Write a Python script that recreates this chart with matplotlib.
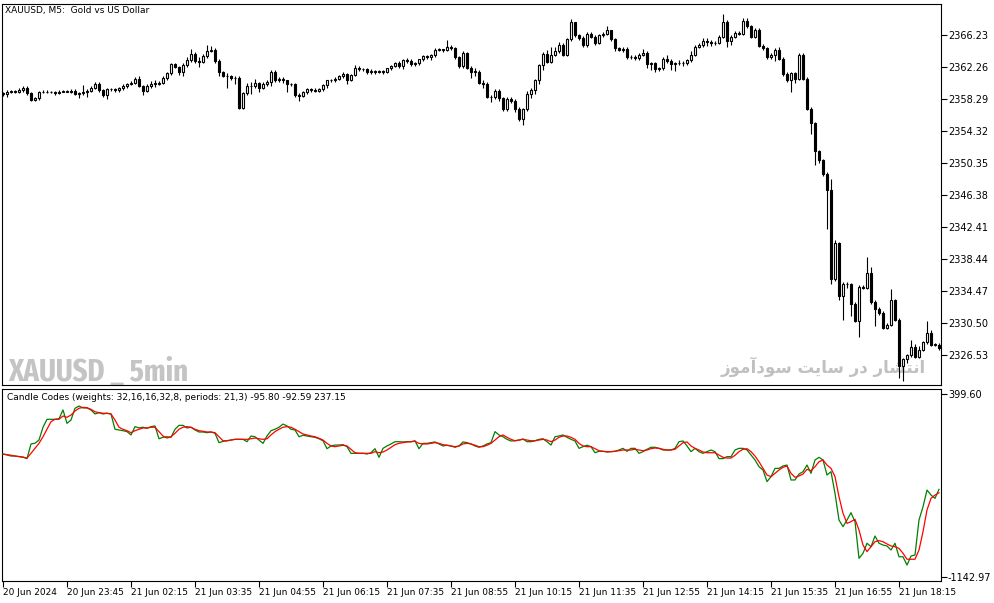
import matplotlib
matplotlib.use('Agg')
import matplotlib.pyplot as plt
from matplotlib import font_manager

# XAUUSD M5 closes (open of each bar = previous close)
first_open = 2359.0
closes = [
    2358.9, 2359.2, 2359.2, 2359.2, 2359.4, 2359.7, 2359.0, 2358.2, 2358.4, 2359.1,
    2359.2, 2359.1, 2359.1, 2359.0, 2359.2, 2359.2, 2359.2, 2359.3, 2358.9, 2359.0,
    2359.2, 2359.3, 2359.7, 2360.1, 2359.4, 2358.8, 2359.5, 2359.5, 2359.4, 2359.6,
    2359.9, 2360.2, 2360.3, 2360.8, 2359.9, 2359.3, 2359.9, 2360.2, 2360.2, 2360.3,
    2360.9, 2361.5, 2362.6, 2362.3, 2361.6, 2362.5, 2363.1, 2363.9, 2363.0, 2362.9,
    2363.6, 2364.3, 2364.4, 2363.0, 2361.6, 2361.2, 2361.1, 2360.9, 2360.9, 2357.2,
    2359.0, 2359.9, 2359.9, 2360.3, 2359.7, 2360.2, 2360.4, 2361.7, 2360.6, 2360.8,
    2360.6, 2360.2, 2360.1, 2358.8, 2358.7, 2359.2, 2359.5, 2359.4, 2359.3, 2359.5,
    2360.0, 2360.6, 2360.6, 2360.8, 2361.1, 2361.4, 2360.7, 2361.3, 2362.2, 2362.0,
    2362.0, 2361.6, 2361.8, 2361.7, 2361.8, 2361.7, 2362.1, 2362.4, 2362.8, 2362.4,
    2363.1, 2363.0, 2362.6, 2362.7, 2363.2, 2363.6, 2363.5, 2363.7, 2364.4, 2364.4,
    2364.4, 2364.7, 2364.6, 2363.5, 2362.4, 2364.0, 2362.2, 2361.7, 2361.7, 2360.3,
    2360.2, 2358.6, 2358.5, 2359.3, 2358.4, 2357.0, 2358.3, 2358.1, 2357.1, 2355.8,
    2357.0, 2358.9, 2359.4, 2360.7, 2362.5, 2363.9, 2362.9, 2363.8, 2364.2, 2365.0,
    2363.8, 2365.7, 2367.8, 2366.2, 2365.9, 2365.0, 2366.4, 2366.0, 2365.3, 2366.2,
    2366.4, 2366.8, 2365.7, 2364.6, 2364.4, 2364.5, 2363.5, 2363.5, 2363.4, 2363.8,
    2364.0, 2362.6, 2362.7, 2362.0, 2362.1, 2363.2, 2363.0, 2362.6, 2362.7, 2362.8,
    2362.7, 2363.1, 2363.8, 2364.8, 2365.0, 2365.5, 2365.4, 2365.2, 2365.3, 2366.0,
    2367.9, 2365.5, 2366.0, 2366.5, 2366.4, 2368.0, 2367.3, 2366.0, 2366.9, 2364.9,
    2364.6, 2363.5, 2363.8, 2364.4, 2363.3, 2361.4, 2360.6, 2361.5, 2360.8, 2363.8,
    2360.8, 2357.1, 2355.3, 2351.8, 2350.7, 2349.0, 2347.0, 2335.9, 2340.4, 2333.8,
    2335.4, 2335.3, 2332.9, 2330.8, 2335.0, 2334.9, 2336.7, 2333.1, 2332.3, 2331.8,
    2329.9, 2330.3, 2333.3, 2330.9, 2325.2, 2326.0, 2326.5, 2327.5, 2326.3, 2327.2,
    2328.1, 2329.3, 2327.8, 2327.8, 2327.4,
]

# wick length above / below the body, in dollars
wick_up = [
    .2, .2, .2, .2, .2, .2, .2, .1, .2, .2,
    .2, .2, .2, .2, .2, .2, .2, .2, .2, .1,
    .8, .2, .2, .3, .3, .1, .1, .2, .2, .2,
    .2, .1, .2, .2, .3, .1, .2, .3, .4, .2,
    .2, .2, .2, .2, .1, .2, .4, .6, .2, .5,
    .3, .7, .5, .2, .2, .2, .3, .2, .2, .2,
    .1, .4, .5, .5, .1, .2, .2, .2, .2, .2,
    .2, .1, .1, .2, .2, .1, .1, .2, .2, .2,
    .1, .1, .2, .2, .2, .2, .1, .1, .3, .2,
    .2, .1, .2, .1, .1, .1, .1, .1, .1, .2,
    .2, .3, .2, .2, .1, .2, .2, .2, .2, .2,
    .1, .9, .3, .1, .1, .2, .1, .2, .4, .2,
    .3, .2, .2, .2, .2, .2, .2, .2, .2, .2,
    .2, .4, .2, .1, .1, .2, .5, 1.0, .5, .4,
    .2, .2, .4, .1, .2, .2, .2, .2, .2, .2,
    .2, .6, .1, .1, .2, .2, .2, .2, .3, .2,
    .5, .2, .2, .2, .2, .3, .6, .2, .2, .3,
    .2, .2, .4, .2, .2, .3, .4, .2, .2, .2,
    1.0, .2, .2, .2, .2, .3, .3, .2, .2, .2,
    .2, .2, .2, .2, .3, .2, .2, .1, .2, .2,
    .2, .2, .2, .2, .2, .2, .2, 1.4, .4, .2,
    .2, .2, .2, .2, .2, .2, 2.0, .7, .2, .2,
    .2, .2, 1.4, .2, .2, .2, .2, .9, .4, .4,
    .2, 1.5, .3, .2, .2,
]
wick_dn = [
    .2, .3, .2, .2, .2, .2, .2, .2, .1, .2,
    .1, .1, .1, .2, .1, .1, .1, .2, .1, .5,
    .2, .7, .2, .2, .2, .2, .5, .2, .2, .2,
    .2, .2, .2, .1, .1, .5, .1, .2, .4, .2,
    .2, .2, .2, .2, .3, .4, .2, .2, .3, .6,
    .2, .2, .2, .2, .4, .2, 1.5, .3, .8, .2,
    .2, .2, 1.0, .3, .5, .2, .3, .5, .2, .2,
    .3, 1.0, .2, .2, .6, .2, .3, .2, .2, .2,
    .2, .3, .2, .2, .2, .2, .5, .2, .2, .2,
    .2, .2, .2, .3, .2, .3, .2, .2, .1, .2,
    .4, .2, .2, .2, .2, .2, .2, .4, .2, .2,
    .3, .2, .2, .2, .2, .2, .2, .8, .6, .2,
    .5, .2, .6, .2, .3, .2, .2, .3, .4, .2,
    .7, .2, .5, .5, .6, .6, .2, .2, .2, .2,
    .2, .2, .2, .2, .3, .2, .2, .2, .3, .2,
    .2, .2, .2, .3, .2, .3, .3, .3, .3, .3,
    .2, .4, .7, .3, .2, .2, .2, .7, .8, .2,
    .3, .2, .2, .2, .2, .2, .5, .3, .2, .2,
    .2, .7, .5, .2, .2, .2, .2, .2, .2, .2,
    .2, .3, .2, .8, .2, .2, .2, 1.4, .5, .2,
    .2, .2, 1.3, 1.7, .3, .3, 4.8, .5, .2, .4,
    2.9, .4, 1.5, .2, 2.0, .2, .2, .2, 2.2, .3,
    .2, .2, .2, .2, 1.5, 1.9, .5, .2, .2, .2,
    .2, .2, .2, .2, .2,
]

# Candle Codes indicator: main line (green) and signal line (red)
code_main = [
    -107, -115, -124, -124, -128, -132, -146, -22, -16, 11,
    119, 186, 186, 186, 191, 265, 152, 180, 279, 298,
    282, 282, 265, 231, 242, 231, 237, 231, 102, 96,
    90, 82, 54, 124, 113, 119, 110, 124, 130, 22,
    34, 39, 34, 102, 135, 135, 113, 119, 96, 79,
    79, 73, 79, 68, -11, 0, 5, 11, 17, 17,
    17, -3, 45, 39, 11, -17, 45, 90, 102, 119,
    146, 130, 102, 96, 39, 51, 45, 39, 34, 22,
    5, -62, -39, -31, -31, -28, -45, -101, -101, -101,
    -101, -107, -96, -62, -135, -59, -39, -22, -3, -3,
    -5, -3, -3, 5, -62, -17, -17, -11, -5, -22,
    -39, -33, -39, -50, -39, -5, -11, -22, -39, -50,
    -39, -22, -11, 82, 54, 39, 17, 3, 5, 11,
    20, -3, -3, 5, 17, 22, -3, -31, 39, 45,
    54, 34, 17, 3, -59, -45, -33, -45, -96, -84,
    -84, -90, -87, -84, -73, -59, -84, -59, -59, -101,
    -87, -67, -50, -50, -59, -73, -73, -73, -59, -3,
    3, -39, -87, -59, -87, -101, -87, -73, -87, -146,
    -146, -129, -129, -73, -59, -59, -73, -115, -157, -214,
    -242, -340, -298, -228, -228, -208, -200, -326, -326, -276,
    -256, -200, -270, -157, -135, -157, -284, -256, -439, -664,
    -720, -664, -602, -678, -987, -945, -860, -889, -799, -860,
    -875, -883, -917, -860, -974, -974, -1044, -968, -959, -664,
    -552, -411, -453, -481, -405,
]
code_signal = [
    -107, -112, -117, -124, -129, -135, -141, -101, -59, -17,
    39, 102, 166, 186, 186, 214, 203, 222, 256, 279,
    287, 284, 270, 250, 242, 237, 237, 231, 180, 119,
    102, 90, 73, 90, 102, 113, 113, 119, 119, 82,
    45, 28, 39, 68, 102, 119, 124, 119, 102, 90,
    85, 79, 79, 73, 39, 5, 5, 11, 17, 17,
    17, 17, 22, 28, 22, 17, 22, 54, 82, 102,
    119, 124, 119, 102, 82, 62, 54, 45, 39, 26,
    11, -17, -39, -45, -39, -33, -39, -67, -96, -101,
    -101, -101, -101, -87, -96, -90, -73, -50, -28, -17,
    -11, -5, -3, 0, -17, -22, -22, -17, -11, -17,
    -28, -33, -39, -45, -39, -22, -17, -22, -33, -45,
    -45, -33, -17, 11, 39, 54, 34, 17, 5, 11,
    17, 11, 5, 5, 11, 17, 11, -3, 11, 34,
    45, 45, 34, 17, -17, -39, -45, -45, -62, -79,
    -84, -87, -87, -84, -79, -73, -73, -73, -67, -73,
    -79, -73, -62, -56, -59, -67, -73, -73, -67, -39,
    -11, -5, -39, -59, -73, -90, -96, -96, -96, -115,
    -135, -141, -141, -118, -87, -67, -62, -87, -124, -172,
    -228, -284, -298, -270, -242, -219, -208, -270, -303, -292,
    -276, -236, -248, -214, -172, -157, -200, -228, -298, -467,
    -607, -692, -678, -658, -748, -875, -931, -889, -847, -838,
    -847, -866, -883, -889, -903, -945, -995, -995, -995, -917,
    -763, -579, -481, -453, -434,
]

price_ticks = [2366.23, 2362.26, 2358.29, 2354.32, 2350.35, 2346.38,
               2342.41, 2338.44, 2334.47, 2330.50, 2326.53]
code_ticks = [399.60, -1142.97]
date_tick_bars = [0, 16, 32, 48, 64, 80, 96, 112, 128, 144, 160, 176, 192, 208, 224]
date_labels = ['20 Jun 2024', '20 Jun 23:45', '21 Jun 02:15', '21 Jun 03:35',
               '21 Jun 04:55', '21 Jun 06:15', '21 Jun 07:35', '21 Jun 08:55',
               '21 Jun 10:15', '21 Jun 11:35', '21 Jun 12:55', '21 Jun 14:15',
               '21 Jun 15:35', '21 Jun 16:55', '21 Jun 18:15']

plt.rcParams['font.family'] = ['DejaVu Sans']
W, H = 994, 603
fig = plt.figure(figsize=(W / 100, H / 100), dpi=100)
fig.patch.set_facecolor('white')


def px_box(x0, y0, x1, y1):
    return [x0 / W, 1 - y1 / H, (x1 - x0) / W, (y1 - y0) / H]


ax = fig.add_axes(px_box(2, 4, 941, 385))
ax2 = fig.add_axes(px_box(2, 389, 941, 581), sharex=ax)

n = len(closes)
xs = list(range(n))
opens = [first_open] + closes[:-1]
highs = [max(o, c) + u for o, c, u in zip(opens, closes, wick_up)]
lows = [min(o, c) - d for o, c, d in zip(opens, closes, wick_dn)]

ax.vlines(xs, lows, highs, color='black', linewidth=0.8, zorder=2)
bottoms = [min(o, c) for o, c in zip(opens, closes)]
heights = [max(abs(c - o), 0.04) for o, c in zip(opens, closes)]
faces = ['white' if c >= o else 'black' for o, c in zip(opens, closes)]
ax.bar(xs, heights, bottom=bottoms, width=0.55, color=faces,
       edgecolor='black', linewidth=0.8, zorder=3)

ax.set_xlim(-0.25, 234.5)
ax.set_ylim(2322.81, 2370.08)
ax.yaxis.tick_right()
ax.set_yticks(price_ticks)
ax.set_yticklabels(['%.2f' % p for p in price_ticks])
ax.tick_params(axis='y', direction='out', length=4, width=0.8, pad=1,
               labelsize=7, colors='black')
ax.tick_params(axis='x', bottom=False, labelbottom=False)

# header and watermarks
fig.text(5 / W, 1 - 11 / H, 'XAUUSD, M5:  Gold vs US Dollar', fontsize=6.5,
         va='center', ha='left')

# pick the narrowest bold face that is installed for the big watermark
wm_font = None
for key in ('ExtraCondensed-Bold', 'ExtraCondensedBold', 'Narrow-Bold',
            'SansNarrow-Bold', 'Condensed-Bold', 'CondensedBold', 'Condensed_Bold'):
    for f in font_manager.fontManager.ttflist:
        if key in f.fname.replace(' ', ''):
            wm_font = f.fname
            break
    if wm_font:
        break
if wm_font and 'Extra' in wm_font:
    wm_prop = font_manager.FontProperties(fname=wm_font, size=22.5)
elif wm_font:
    wm_prop = font_manager.FontProperties(fname=wm_font, size=18)
else:
    wm_prop = font_manager.FontProperties(family='DejaVu Sans', weight='bold', size=15)
ax.text(0.0065, 0.011, 'XAUUSD _ 5min', transform=ax.transAxes,
        fontproperties=wm_prop, color='#c4c4c4', ha='left', va='baseline', zorder=1)

# Persian "انتشار در سایت سودآموز", written with pre-shaped presentation forms
fa_text = ('\ufeaf\ufeee\ufee3\ufe81\ufea9\ufeee\ufeb3 \ufe96\ufbfe\ufe8e\ufeb3 '
           '\ufead\ufea9 \ufead\ufe8e\ufeb8\ufe98\ufee7\ufe8d')
ax.text(0.984, 0.032, fa_text, transform=ax.transAxes, fontsize=12,
        fontweight='bold', color='#c0c0c0', ha='right', va='baseline', zorder=1)

# indicator panel
ax2.plot(xs, code_main, color='#008000', linewidth=0.9, zorder=3)
ax2.plot(xs, code_signal, color='#ff0000', linewidth=0.9, zorder=4)
ax2.set_ylim(-1178.6, 441.8)
ax2.yaxis.tick_right()
ax2.set_yticks(code_ticks)
ax2.set_yticklabels(['%.2f' % v for v in code_ticks])
ax2.tick_params(axis='y', direction='out', length=4, width=0.8, pad=1,
                labelsize=7, colors='black')
ax2.set_xticks(date_tick_bars)
ax2.set_xticklabels(date_labels, ha='left')
ax2.tick_params(axis='x', direction='out', length=4, width=0.8, pad=1,
                labelsize=6.5, colors='black')
ax2.text(5 / 939, 1 - 9 / 192, 'Candle Codes (weights: 32,16,16,32,8, periods: 21,3) -95.80 -92.59 237.15',
         transform=ax2.transAxes, fontsize=6.5, va='center', ha='left')

for a in (ax, ax2):
    for s in a.spines.values():
        s.set_linewidth(0.8)
        s.set_color('black')

fig.savefig('out.png', dpi=100, facecolor='white')
